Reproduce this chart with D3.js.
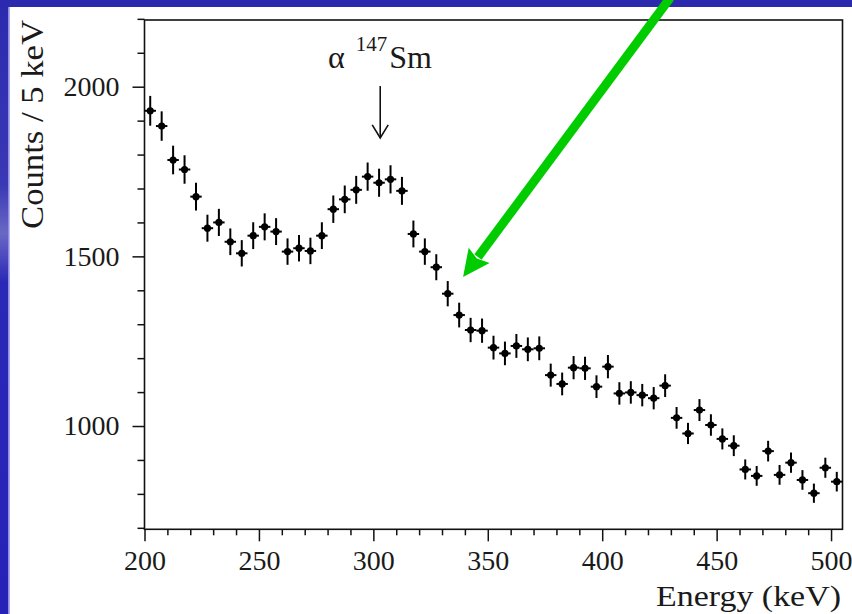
<!DOCTYPE html>
<html lang="en">
<head>
    <meta charset="utf-8">
    <!-- Load d3.js -->
    <script src="https://d3js.org/d3.v7.min.js"></script>
    <style>
        body { margin: 0; background: #ffffff; }
        text { font-family: "Liberation Serif", "DejaVu Serif", serif; fill: #1a1a1a; }
    </style>
</head>
<body>
    <div id="my_dataviz"></div>

    <script>
        // bin centres (keV), 5 keV wide bins
        const energy = d3.range(61).map(i => 202.5 + i * 5);

        // counts per bin
        const counts = [
            1929, 1884, 1784, 1756, 1676, 1583, 1600, 1543, 1509, 1561,
            1587, 1573, 1514, 1524, 1516, 1561, 1639, 1668, 1696, 1735,
            1717, 1727, 1693, 1566, 1514, 1468, 1390, 1327, 1283, 1281,
            1231, 1214, 1236, 1226, 1229, 1150, 1124, 1172, 1170, 1116,
            1175, 1096, 1099, 1091, 1082, 1119, 1024, 978, 1047, 1003,
            962, 942, 872, 853, 926, 856, 892, 841, 802, 877,
            836
        ];

        // tick values
        const xMajorTicks = [200, 250, 300, 350, 400, 450, 500];
        const yMajorTicks = [1000, 1500, 2000];

        // annotation anchors in data units
        const peakArrow = { x: 303, yTop: 2002, yTip: 1849 };
        const peakLabel = { x: 280.2, y: 2055 };
        const greenArrow = { x0: 429.7, y0: 2262, x1: 339.2, y1: 1439 };

        const W = 852, H = 614;

        const svg = d3.select("#my_dataviz")
            .append("svg")
            .attr("width", W)
            .attr("height", H);

        // slide background: blue frame around a white panel
        const defs = svg.append("defs");
        const grad = defs.append("linearGradient")
            .attr("id", "sideGrad")
            .attr("x1", 0).attr("y1", 0).attr("x2", 0).attr("y2", 1);
        grad.append("stop").attr("offset", "0%").attr("stop-color", "#2b2aae");
        grad.append("stop").attr("offset", "30%").attr("stop-color", "#3a38b4");
        grad.append("stop").attr("offset", "38%").attr("stop-color", "#6a68c4");
        grad.append("stop").attr("offset", "46%").attr("stop-color", "#2a28b6");
        grad.append("stop").attr("offset", "100%").attr("stop-color", "#2622b8");

        svg.append("rect").attr("x", 0).attr("y", 0).attr("width", W).attr("height", H)
            .attr("fill", "#2b2aae");
        svg.append("rect").attr("x", 0).attr("y", 0).attr("width", 10).attr("height", H)
            .attr("fill", "url(#sideGrad)");
        svg.append("rect").attr("x", 8).attr("y", 7).attr("width", 1.5).attr("height", H)
            .attr("fill", "#8c8cf0");
        svg.append("rect").attr("x", 9.5).attr("y", 7).attr("width", W).attr("height", H)
            .attr("fill", "#ffffff");

        // scales
        const x = d3.scaleLinear().domain([200, 505]).range([144.5, 842.5]);
        const y = d3.scaleLinear().domain([695.6, 2196.6]).range([529.3, 20]);

        const g = svg.append("g");

        // X axis, minor ticks every 10 keV
        const xAxis = g.append("g")
            .attr("transform", `translate(0, ${y.range()[0]})`)
            .call(d3.axisBottom(x)
                .tickValues(d3.range(200, 506, 10))
                .tickSize(12)
                .tickSizeOuter(0)
                .tickPadding(9)
                .tickFormat(d => xMajorTicks.includes(d) ? d : ""));
        xAxis.select(".domain").remove();
        xAxis.selectAll(".tick line")
            .attr("y2", d => xMajorTicks.includes(d) ? 12 : 6)
            .attr("stroke", "#111")
            .attr("stroke-width", 1.5);
        xAxis.selectAll(".tick text")
            .style("font-size", "28px")
            .style("font-family", "Liberation Serif, serif")
            .attr("fill", "#222");

        // Y axis, minor ticks every 100 counts
        const yAxis = g.append("g")
            .attr("transform", `translate(${x.range()[0]}, 0)`)
            .call(d3.axisLeft(y)
                .tickValues(d3.range(700, 2201, 100))
                .tickSize(12)
                .tickSizeOuter(0)
                .tickPadding(13)
                .tickFormat(d => yMajorTicks.includes(d) ? d : ""));
        yAxis.select(".domain").remove();
        yAxis.selectAll(".tick line")
            .attr("x2", d => yMajorTicks.includes(d) ? -12 : -7)
            .attr("stroke", "#111")
            .attr("stroke-width", 1.5);
        yAxis.selectAll(".tick text")
            .style("font-size", "28px")
            .style("font-family", "Liberation Serif, serif")
            .attr("fill", "#222");

        // frame
        g.append("rect")
            .attr("x", x.range()[0])
            .attr("y", y.range()[1])
            .attr("width", x.range()[1] - x.range()[0])
            .attr("height", y.range()[0] - y.range()[1])
            .attr("fill", "none")
            .attr("stroke", "#111")
            .attr("stroke-width", 1.6);

        // axis titles
        g.append("text")
            .attr("transform", "rotate(-90)")
            .attr("x", -y.range()[1])
            .attr("y", 43)
            .attr("text-anchor", "end")
            .attr("textLength", 209)
            .attr("lengthAdjust", "spacingAndGlyphs")
            .style("font-size", "32px")
            .text("Counts / 5 keV");

        g.append("text")
            .attr("x", 841)
            .attr("y", 606)
            .attr("text-anchor", "end")
            .attr("textLength", 185)
            .attr("lengthAdjust", "spacingAndGlyphs")
            .style("font-size", "29px")
            .text("Energy (keV)");

        // data points with Poisson error bars
        const pts = energy.map((e, i) => ({ e: e, c: counts[i], err: Math.sqrt(counts[i]) }));
        const marks = g.append("g").attr("stroke", "#000").attr("stroke-width", 2);

        marks.selectAll(".vbar")
            .data(pts)
            .join("line")
            .attr("class", "vbar")
            .attr("x1", d => x(d.e)).attr("x2", d => x(d.e))
            .attr("y1", d => y(d.c - d.err)).attr("y2", d => y(d.c + d.err));

        marks.selectAll(".hbar")
            .data(pts)
            .join("line")
            .attr("class", "hbar")
            .attr("x1", d => x(d.e - 2.5)).attr("x2", d => x(d.e + 2.5))
            .attr("y1", d => y(d.c)).attr("y2", d => y(d.c));

        g.selectAll(".pt")
            .data(pts)
            .join("circle")
            .attr("class", "pt")
            .attr("cx", d => x(d.e))
            .attr("cy", d => y(d.c))
            .attr("r", 3.6)
            .attr("fill", "#000");

        // alpha 147Sm label and arrow
        const lab = g.append("text")
            .attr("x", x(peakLabel.x))
            .attr("y", y(peakLabel.y))
            .style("font-size", "32px");
        lab.append("tspan").text("α");
        lab.append("tspan").attr("dx", 11).attr("dy", -17).style("font-size", "21px").text("147");
        lab.append("tspan").attr("dx", 2).attr("dy", 17).text("Sm");

        const ax = x(peakArrow.x), ayTip = y(peakArrow.yTip);
        g.append("line")
            .attr("x1", ax).attr("x2", ax)
            .attr("y1", y(peakArrow.yTop)).attr("y2", ayTip)
            .attr("stroke", "#111").attr("stroke-width", 1.6);
        g.append("path")
            .attr("d", `M${ax - 8},${ayTip - 13} L${ax},${ayTip} L${ax + 8},${ayTip - 13}`)
            .attr("fill", "none")
            .attr("stroke", "#111")
            .attr("stroke-width", 1.6);

        // green pointer arrow
        const gx0 = x(greenArrow.x0), gy0 = y(greenArrow.y0);
        const gx1 = x(greenArrow.x1), gy1 = y(greenArrow.y1);
        const len = Math.hypot(gx1 - gx0, gy1 - gy0);
        const ux = (gx1 - gx0) / len, uy = (gy1 - gy0) / len;
        const headLen = 27, headHalf = 13;
        const bx = gx1 - ux * headLen, by = gy1 - uy * headLen;
        svg.append("line")
            .attr("x1", gx0).attr("y1", gy0)
            .attr("x2", bx + ux * 2).attr("y2", by + uy * 2)
            .attr("stroke", "#00cc00")
            .attr("stroke-width", 9);
        svg.append("path")
            .attr("d", `M${gx1},${gy1} L${bx - uy * headHalf},${by + ux * headHalf} L${bx + ux * 4},${by + uy * 4} L${bx + uy * headHalf},${by - ux * headHalf} Z`)
            .attr("fill", "#00cc00");
    </script>
</body>
</html>
